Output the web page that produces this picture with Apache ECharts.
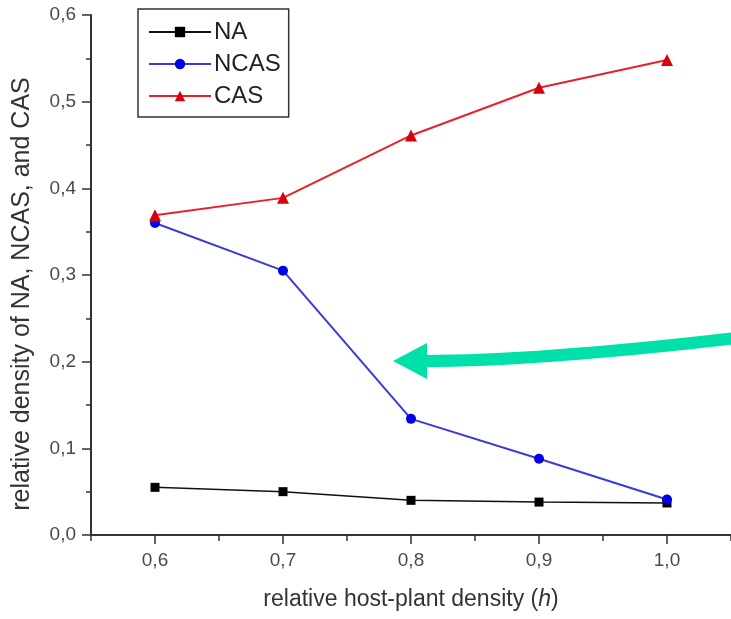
<!DOCTYPE html>
<html>
<head>
<meta charset="utf-8">
<script src="https://cdn.jsdelivr.net/npm/echarts@6/dist/echarts.min.js"></script>
<style>
  html, body { margin: 0; padding: 0; background: #fff; }
  #chart { width: 731px; height: 619px; }
</style>
</head>
<body>
<div id="chart"></div>
<script>
// host-plant density values (x) and the three relative densities
var hostDensity = [0.6, 0.7, 0.8, 0.9, 1.0];
var naValues = [0.055, 0.050, 0.040, 0.038, 0.037];
var ncasValues = [0.360, 0.305, 0.134, 0.088, 0.041];
var casValues = [0.369, 0.389, 0.461, 0.516, 0.548];

var xMajorTicks = [0.6, 0.7, 0.8, 0.9, 1.0];
var xMinorTicks = [0.55, 0.65, 0.75, 0.85, 0.95, 1.05];

var FONT = 'Liberation Sans, Arial, sans-serif';

function comma(v) {
	return v.toFixed(1).replace('.', ',');
}

function pairs(ys) {
	var out = [];
	for (var i = 0; i < hostDensity.length; i++) {
		out.push([hostDensity[i], ys[i]]);
	}
	return out;
}

var option = {
	animation: false,
	backgroundColor: '#fff',
	grid: { left: 91, top: 15, right: 0, bottom: 84 },
	legend: {
		orient: 'vertical',
		left: 138,
		top: 9,
		padding: [11, 8, 9, 10],
		itemGap: 8,
		itemWidth: 62,
		itemHeight: 13,
		borderColor: '#333',
		borderWidth: 1.5,
		textStyle: { fontFamily: FONT, fontSize: 24, color: '#222', padding: [0, 0, 0, -2] },
		data: ['NA', 'NCAS', 'CAS']
	},
	xAxis: [
		{
			type: 'value',
			min: 0.55,
			max: 1.05,
			position: 'bottom',
			splitLine: { show: false },
			axisLine: { lineStyle: { color: '#333', width: 2 } },
			axisTick: { customValues: xMajorTicks, length: 9, lineStyle: { color: '#333', width: 1.5 } },
			axisLabel: {
				customValues: xMajorTicks,
				formatter: comma,
				margin: 16,
				fontFamily: FONT,
				fontSize: 19,
				color: '#4a4a4a'
			},
			name: 'relative host-plant density ({i|h})',
			nameLocation: 'middle',
			nameGap: 53,
			nameTextStyle: {
				fontFamily: FONT,
				fontSize: 23,
				color: '#333',
				rich: { i: { fontFamily: FONT, fontSize: 23, fontStyle: 'italic', color: '#333' } }
			}
		},
		{
			type: 'value',
			min: 0.55,
			max: 1.05,
			position: 'bottom',
			offset: 0,
			splitLine: { show: false },
			axisLine: { show: false },
			axisTick: { customValues: xMinorTicks, length: 6, lineStyle: { color: '#333', width: 1.5 } },
			axisLabel: { show: false }
		}
	],
	yAxis: {
		type: 'value',
		min: 0,
		max: 0.6,
		interval: 0.1,
		splitLine: { show: false },
		axisLine: { show: true, lineStyle: { color: '#333', width: 2 } },
		axisTick: { show: true, length: 9, lineStyle: { color: '#333', width: 1.5 } },
		minorTick: { show: true, splitNumber: 2, length: 5, lineStyle: { color: '#333', width: 1.5 } },
		axisLabel: {
			formatter: comma,
			margin: 15,
			fontFamily: FONT,
			fontSize: 19,
			color: '#4a4a4a'
		}
	},
	graphic: [
		{
			type: 'text',
			x: 22,
			y: 294,
			rotation: Math.PI / 2,
			style: {
				text: 'relative density of NA, NCAS, and CAS',
				x: 0,
				y: 0,
				textAlign: 'center',
				textVerticalAlign: 'middle',
				font: '25px ' + FONT,
				fill: '#333'
			}
		},
		{
			// green annotation arrow
			type: 'bezierCurve',
			shape: { x1: 424, y1: 361, x2: 745, y2: 337, cpx1: 540, cpy1: 361 },
			style: { stroke: '#00e0a8', lineWidth: 12, fill: null },
			z: 100
		},
		{
			type: 'polygon',
			shape: { points: [[393, 361], [427, 343], [427, 379]] },
			style: { fill: '#00e0a8' },
			z: 100
		}
	],
	series: [
		{
			name: 'NA',
			type: 'line',
			data: pairs(naValues),
			symbol: 'rect',
			symbolSize: 9,
			lineStyle: { color: '#111', width: 1.5 },
			itemStyle: { color: '#000' }
		},
		{
			name: 'NCAS',
			type: 'line',
			data: pairs(ncasValues),
			symbol: 'circle',
			symbolSize: 10,
			lineStyle: { color: '#3a3ad8', width: 2 },
			itemStyle: { color: '#0000e6' }
		},
		{
			name: 'CAS',
			type: 'line',
			data: pairs(casValues),
			symbol: 'triangle',
			symbolSize: 12,
			lineStyle: { color: '#e8202a', width: 2 },
			itemStyle: { color: '#d8000c' }
		}
	]
};

var chart = echarts.init(document.getElementById('chart'));
chart.setOption(option);
</script>
</body>
</html>
